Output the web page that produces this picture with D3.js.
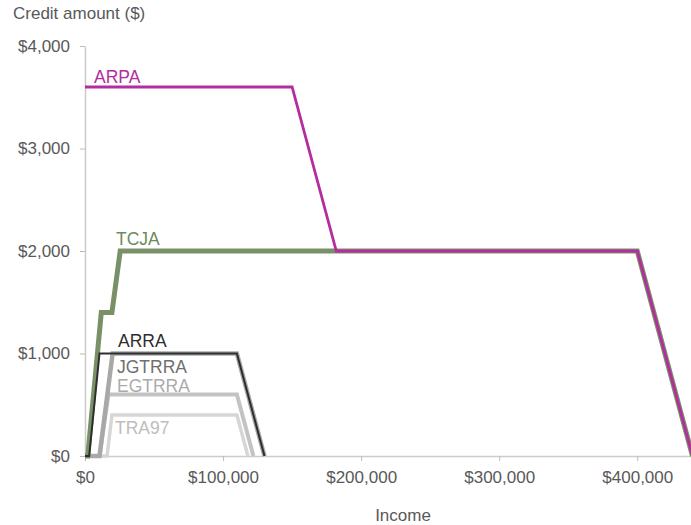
<!DOCTYPE html>
<html>
<head>
<meta charset="utf-8">
<script src="https://cdn.jsdelivr.net/npm/d3@7"></script>
<style>
  html, body { margin: 0; padding: 0; background: #fff; }
  svg { display: block; font-family: "Liberation Sans", Arial, sans-serif; }
</style>
</head>
<body>
<svg id="chart" width="691" height="525"></svg>
<script>
// Child tax credit schedules (one child, married filing jointly): [income, credit]
const TRA97  = [[0, 0], [16000, 0], [19500, 400], [110000, 400], [118000, 0]];
const EGTRRA = [[0, 0], [10500, 0], [17000, 600], [110000, 600], [122000, 0]];
const JGTRRA = [[0, 0], [10500, 0], [20000, 1000], [110000, 1000], [130000, 0]];
const ARRA   = [[0, 0], [3000, 0], [10500, 1000], [110000, 1000], [130000, 0]];
const TCJA   = [[0, 0], [2000, 0], [11800, 1400], [19500, 1400], [25500, 2000], [400000, 2000], [440000, 0]];
const ARPA   = [[0, 3600], [150000, 3600], [182000, 2000], [400000, 2000], [440000, 0]];

const yTicks = [0, 1000, 2000, 3000, 4000];
const xTicks = [0, 100000, 200000, 300000, 400000];

const series = [
  { name: "TRA97",  data: TRA97,  color: "#d6d6d6", width: 3.5, label: "#bdbdbd", lx: 115, ly: 434 },
  { name: "EGTRRA", data: EGTRRA, color: "#c3c3c3", width: 4,   label: "#ababab", lx: 117, ly: 392 },
  { name: "JGTRRA", data: JGTRRA, color: "#a8a8a8", width: 4.5, label: "#707070", lx: 117, ly: 373 },
  { name: "TCJA",   data: TCJA,   color: "#7a9168", width: 5,   label: "#6f8a5c", lx: 116, ly: 245 },
  { name: "ARRA",   data: ARRA,   color: "#2e2e2e", width: 2,   label: "#2e2e2e", lx: 118, ly: 347 },
  { name: "ARPA",   data: ARPA,   color: "#b42d9e", width: 2.8, label: "#b42d9e", lx: 94,  ly: 83 }
];

const svg = d3.select("#chart");
const x = d3.scaleLinear().domain([0, 440000]).range([85, 692.5]);
const y = d3.scaleLinear().domain([0, 4000]).range([456, 46]);
const money = d3.format("$,");

// Y axis
const yAxis = svg.append("g")
  .attr("transform", "translate(85,0)")
  .call(d3.axisLeft(y).tickValues(yTicks).tickFormat(money).tickSize(5).tickSizeOuter(0).tickPadding(10));
yAxis.select(".domain").attr("stroke", "#cccccc").attr("stroke-width", 1.5);
yAxis.selectAll(".tick line").attr("stroke", "#bbbbbb");
yAxis.selectAll(".tick text").attr("fill", "#595959").style("font-size", "17px")
  .style("font-family", "Liberation Sans, Arial, sans-serif");

// X axis
const xAxis = svg.append("g")
  .attr("transform", "translate(0,456)")
  .call(d3.axisBottom(x).tickValues(xTicks).tickFormat(money).tickSize(5).tickSizeOuter(0).tickPadding(10));
xAxis.select(".domain").attr("stroke", "#cccccc").attr("stroke-width", 1.5);
xAxis.selectAll(".tick line").attr("stroke", "#bbbbbb");
xAxis.selectAll(".tick text").attr("fill", "#595959").style("font-size", "17px")
  .style("font-family", "Liberation Sans, Arial, sans-serif");

// Axis titles
svg.append("text").attr("x", 13).attr("y", 19)
  .attr("fill", "#595959").style("font-size", "17px")
  .text("Credit amount ($)");
svg.append("text").attr("x", 403).attr("y", 521).attr("text-anchor", "middle")
  .attr("fill", "#595959").style("font-size", "17px")
  .text("Income");

// Credit lines
const line = d3.line().x(d => x(d[0])).y(d => y(d[1]));
svg.append("g").selectAll("path")
  .data(series)
  .join("path")
  .attr("d", d => line(d.data))
  .attr("fill", "none")
  .attr("stroke", d => d.color)
  .attr("stroke-width", d => d.width)
  .attr("stroke-linejoin", "miter");

// Line labels
svg.append("g").selectAll("text")
  .data(series)
  .join("text")
  .attr("x", d => d.lx)
  .attr("y", d => d.ly)
  .attr("fill", d => d.label)
  .style("font-size", "17.5px")
  .text(d => d.name);
</script>
</body>
</html>
